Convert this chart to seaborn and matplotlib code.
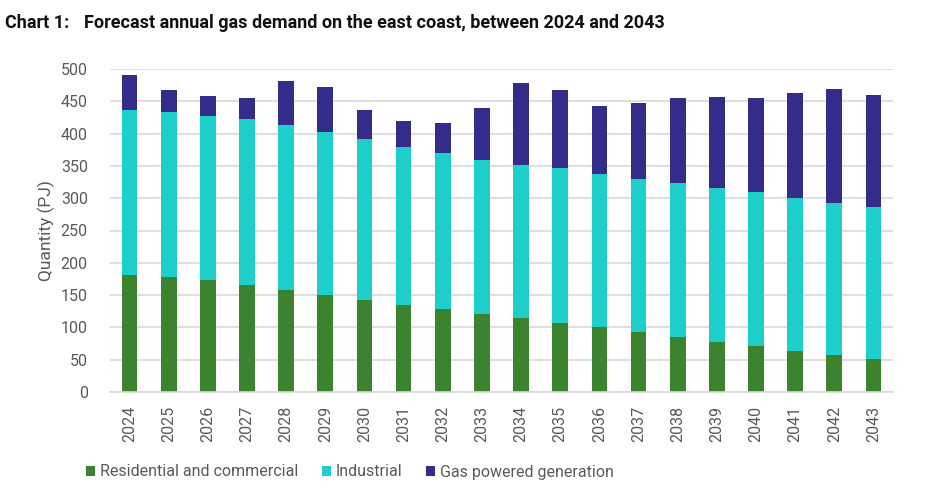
import numpy as np
import pandas as pd
import matplotlib
matplotlib.use("Agg")
import matplotlib.pyplot as plt
import seaborn as sns
from matplotlib.patches import Patch

years = [str(y) for y in range(2024, 2044)]
residential = [181, 178, 173, 166, 158, 150, 143, 135, 129, 121,
               115, 107, 100, 93, 85, 78, 71, 64, 57, 51]
industrial = [256, 256, 254, 256, 255, 253, 249, 244, 241, 238,
              237, 239, 238, 237, 238, 238, 238, 237, 236, 236]
gas_power = [53, 34, 31, 33, 69, 69, 44, 41, 46, 80,
             126, 121, 105, 118, 132, 141, 146, 162, 176, 173]
series_names = ["Residential and commercial", "Industrial", "Gas powered generation"]
colors = ["#3B832E", "#1ECFC9", "#332C88"]

sns.set_theme(style="white")
plt.rcParams['font.family'] = ['Roboto', 'DejaVu Sans']

df = pd.DataFrame({"year": years, "res": residential, "ind": industrial, "gas": gas_power})
df["c1"] = df["res"]
df["c2"] = df["res"] + df["ind"]
df["c3"] = df["c2"] + df["gas"]

fig = plt.figure(figsize=(9.34, 4.95), dpi=100)
ax = fig.add_axes([110 / 934, 1 - 392 / 495, 783 / 934, 323 / 495])

for col, c in zip(["c3", "c2", "c1"], [colors[2], colors[1], colors[0]]):
    sns.barplot(data=df, x="year", y=col, color=c, width=0.4, ax=ax,
                saturation=1, linewidth=0, errorbar=None)

ax.set_ylim(0, 500)
ax.set_yticks(np.arange(0, 501, 50))
ax.yaxis.grid(True, color="#d9d9d9", linewidth=1.2)
ax.set_axisbelow(True)
for s in ["left", "right", "top"]:
    ax.spines[s].set_visible(False)
ax.spines["bottom"].set_color("#d9d9d9")
ax.spines["bottom"].set_linewidth(1.2)
ax.tick_params(axis="y", colors="#595959", labelsize=11.5, length=0, pad=16)
ax.tick_params(axis="x", colors="#595959", labelsize=11.5, length=0, rotation=90, pad=10)
ax.set_xlabel("")
ax.set_ylabel("Quantity (PJ)", color="#595959", fontsize=12.5, labelpad=4)
ax.set_xlim(-0.5, 19.5)

handles = [Patch(facecolor=c, edgecolor="none") for c in colors]
fig.legend(handles, series_names, loc="center", bbox_to_anchor=(350 / 934, 1 - 472 / 495), ncol=3,
           frameon=False, fontsize=11.5, handlelength=0.55, handleheight=0.6,
           handletextpad=0.3, columnspacing=1.5, labelcolor="#595959")

fig.text(5 / 934, 1 - 28 / 495, "Chart 1:", fontsize=13, fontweight="bold", color="#111111",
         va="baseline")
fig.text(84 / 934, 1 - 28 / 495, "Forecast annual gas demand on the east coast, between 2024 and 2043",
         fontsize=13, fontweight="bold", color="#111111", va="baseline")

fig.savefig("out.png", dpi=100)
